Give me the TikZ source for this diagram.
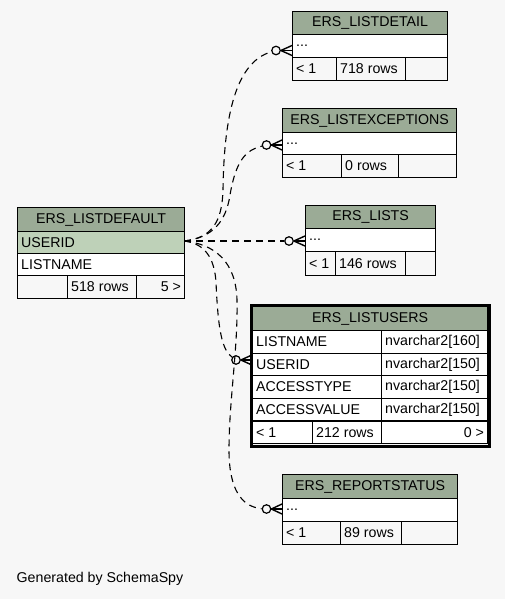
\documentclass[tikz,border=0pt]{standalone}
\usepackage{fontspec}
\newfontfamily\arialf{Liberation Sans}
\newcommand\tabf{\arialf\fontsize{14.2}{17}\selectfont}
\definecolor{hdr}{HTML}{9BAB96}
\definecolor{keyc}{HTML}{BED1B8}
\definecolor{bgc}{HTML}{F7F7F7}
\tikzset{
  cellbase/.style={draw=black, line width=1.2pt, anchor=north west, inner sep=0pt, font=\tabf},
  lt/.style={label={[anchor=west,xshift=4pt,inner sep=0pt,font=\tabf]west:{#1}}},
  rt/.style={label={[anchor=east,xshift=-4pt,inner sep=0pt,font=\tabf]east:{#1}}},
  rel/.style={draw=black, line width=1.1pt, dash pattern=on 7pt off 5pt},
  odot/.style={circle, draw=black, line width=1.2pt, fill=bgc, minimum size=8.5pt, inner sep=0pt},
  crow/.style={draw=black, line width=1.4pt}
}
\begin{document}
\begin{tikzpicture}[x=1pt,y=-1pt]
\fill[bgc] (0,0) rectangle (505,599);
\useasboundingbox (0,0) rectangle (505,599);

% coordinates for relationship ends
\coordinate (j) at (184,241);
\coordinate (e1) at (292,50.5);
\coordinate (e2) at (282,145);
\coordinate (e3) at (305,241);
\coordinate (e4) at (252,360);
\coordinate (e5) at (282,509);

\node[odot] (c1) at (276,50.5) {};
\node[odot] (c2) at (266.5,145) {};
\node[odot] (c3) at (289,241) {};
\node[odot] (c4) at (236,360) {};
\node[odot] (c5) at (266.5,509) {};

% connectors
\draw[rel] (j) .. controls (212,238) and (222,222) .. (223,190) .. controls (224,115) and (236,62) .. (c1);
\draw[rel] (j) .. controls (212,238) and (226,222) .. (230,195) .. controls (236,160) and (246,150) .. (c2);
\draw[rel] (j) -- (c3);
\draw[rel] (j) .. controls (200,243) and (214,252) .. (216,282) .. controls (218,330) and (222,350) .. (c4);
\draw[rel] (j) .. controls (215,244) and (236,262) .. (237,300) .. controls (238,350) and (229,400) .. (229,450) .. controls (229,490) and (242,507) .. (c5);

% crow's feet
\foreach \c/\e in {c1/e1,c2/e2,c3/e3,c4/e4,c5/e5}{
  \draw[crow] (\c.east) -- ([yshift=5pt]\e);
  \draw[crow] (\c.east) -- (\e);
  \draw[crow] (\c.east) -- ([yshift=-5pt]\e);
}

% ERS_LISTDETAIL
\node[cellbase, fill=hdr, minimum width=155, minimum height=23] (ld-h) at (292,11) {ERS\_LISTDETAIL};
\node[cellbase, fill=white, minimum width=155, minimum height=23, lt={...}] (ld-r) at (292,34) {};
\node[cellbase, fill=bgc, minimum width=44, minimum height=23, lt={< 1}] (ld-f1) at (292,57) {};
\node[cellbase, fill=bgc, minimum width=69, minimum height=23, lt={718 rows}] (ld-f2) at (336,57) {};
\node[cellbase, fill=bgc, minimum width=42, minimum height=23] (ld-f3) at (405,57) {};

% ERS_LISTEXCEPTIONS
\node[cellbase, fill=hdr, minimum width=174, minimum height=24] (le-h) at (282,108) {ERS\_LISTEXCEPTIONS};
\node[cellbase, fill=white, minimum width=174, minimum height=22, lt={...}] (le-r) at (282,132) {};
\node[cellbase, fill=bgc, minimum width=59, minimum height=23, lt={< 1}] (le-f1) at (282,154) {};
\node[cellbase, fill=bgc, minimum width=57, minimum height=23, lt={0 rows}] (le-f2) at (341,154) {};
\node[cellbase, fill=bgc, minimum width=58, minimum height=23] (le-f3) at (398,154) {};

% ERS_LISTDEFAULT
\node[cellbase, fill=hdr, minimum width=167, minimum height=24] (df-h) at (17,207) {ERS\_LISTDEFAULT};
\node[cellbase, fill=keyc, minimum width=167, minimum height=22, lt={USERID}] (df-k) at (17,231) {};
\node[cellbase, fill=white, minimum width=167, minimum height=22, lt={LISTNAME}] (df-r) at (17,253) {};
\node[cellbase, fill=bgc, minimum width=50, minimum height=23] (df-f1) at (17,275) {};
\node[cellbase, fill=bgc, minimum width=69, minimum height=23, lt={518 rows}] (df-f2) at (67,275) {};
\node[cellbase, fill=bgc, minimum width=48, minimum height=23, rt={5 >}] (df-f3) at (136,275) {};

% ERS_LISTS
\node[cellbase, fill=hdr, minimum width=130, minimum height=23] (ls-h) at (305,205) {ERS\_LISTS};
\node[cellbase, fill=white, minimum width=130, minimum height=23, lt={...}] (ls-r) at (305,228) {};
\node[cellbase, fill=bgc, minimum width=30, minimum height=24, lt={< 1}] (ls-f1) at (305,251) {};
\node[cellbase, fill=bgc, minimum width=70, minimum height=24, lt={146 rows}] (ls-f2) at (335,251) {};
\node[cellbase, fill=bgc, minimum width=30, minimum height=24] (ls-f3) at (405,251) {};

% ERS_LISTUSERS
\node[draw=black, line width=3pt, anchor=north west, inner sep=0pt, minimum width=238.5, minimum height=141] (lu-frame) at (249.5,303.5) {};
\node[cellbase, fill=hdr, minimum width=235, minimum height=24] (lu-h) at (252,306) {ERS\_LISTUSERS};
\node[cellbase, fill=white, minimum width=129, minimum height=22.6, lt={LISTNAME}] (lu-a1) at (252,330) {};
\node[cellbase, fill=white, minimum width=106, minimum height=22.6, lt={nvarchar2[160]}] (lu-b1) at (381,330) {};
\node[cellbase, fill=white, minimum width=129, minimum height=22.6, lt={USERID}] (lu-a2) at (252,352.6) {};
\node[cellbase, fill=white, minimum width=106, minimum height=22.6, lt={nvarchar2[150]}] (lu-b2) at (381,352.6) {};
\node[cellbase, fill=white, minimum width=129, minimum height=22.6, lt={ACCESSTYPE}] (lu-a3) at (252,375.2) {};
\node[cellbase, fill=white, minimum width=106, minimum height=22.6, lt={nvarchar2[150]}] (lu-b3) at (381,375.2) {};
\node[cellbase, fill=white, minimum width=129, minimum height=22.6, lt={ACCESSVALUE}] (lu-a4) at (252,397.8) {};
\node[cellbase, fill=white, minimum width=106, minimum height=22.6, lt={nvarchar2[150]}] (lu-b4) at (381,397.8) {};
\node[cellbase, fill=white, minimum width=60, minimum height=22.6, lt={< 1}] (lu-f1) at (252,420.4) {};
\node[cellbase, fill=white, minimum width=69, minimum height=22.6, lt={212 rows}] (lu-f2) at (312,420.4) {};
\node[cellbase, fill=white, minimum width=106, minimum height=22.6, rt={0 >}] (lu-f3) at (381,420.4) {};

% ERS_REPORTSTATUS
\node[cellbase, fill=hdr, minimum width=175, minimum height=24] (rs-h) at (282,474) {ERS\_REPORTSTATUS};
\node[cellbase, fill=white, minimum width=175, minimum height=23, lt={...}] (rs-r) at (282,498) {};
\node[cellbase, fill=bgc, minimum width=58, minimum height=22.5, lt={< 1}] (rs-f1) at (282,521) {};
\node[cellbase, fill=bgc, minimum width=61, minimum height=22.5, lt={89 rows}] (rs-f2) at (340,521) {};
\node[cellbase, fill=bgc, minimum width=56, minimum height=22.5] (rs-f3) at (401,521) {};

\node[anchor=west, inner sep=0pt, font=\tabf] (gen) at (16.5,579) {Generated by SchemaSpy};
\end{tikzpicture}
\end{document}
